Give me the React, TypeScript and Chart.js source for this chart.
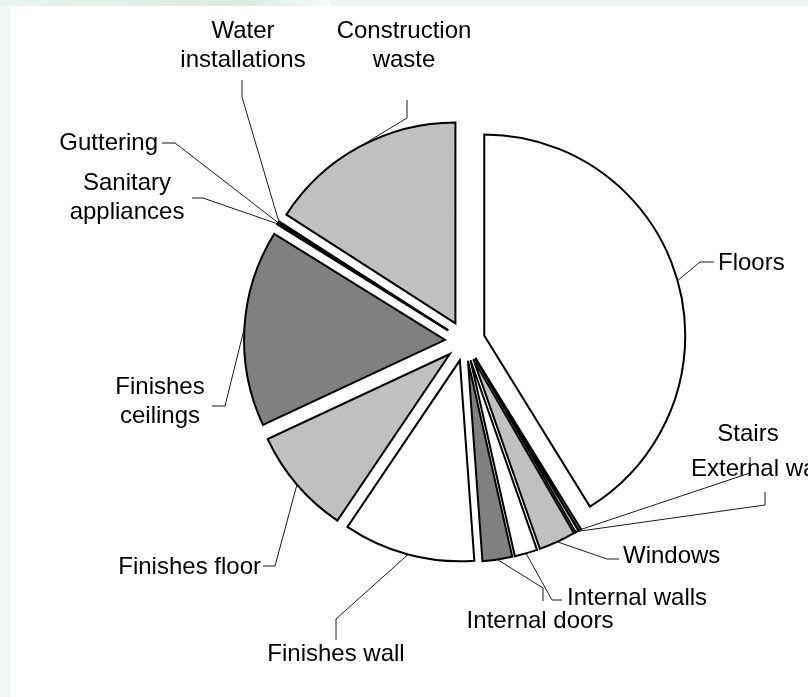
import React, { useEffect, useRef } from 'react';
import { Chart, registerables, ArcElement } from 'chart.js';

// ---------------- data ----------------
const CATEGORIES = [
  'Floors',
  'Stairs',
  'External walls',
  'Windows',
  'Internal walls',
  'Internal doors',
  'Finishes wall',
  'Finishes floor',
  'Finishes ceilings',
  'Sanitary appliances',
  'Guttering',
  'Water installations',
  'Construction waste',
];
const SHARES = [41.2, 0.22, 0.25, 2.97, 1.83, 2.39, 10.6, 8.6, 15.8, 0.1, 0.08, 0.08, 15.9];
const LABEL_TEXT = [
  ['Floors'],
  ['Stairs'],
  ['External walls'],
  ['Windows'],
  ['Internal walls'],
  ['Internal doors'],
  ['Finishes wall'],
  ['Finishes floor'],
  ['Finishes', 'ceilings'],
  ['Sanitary', 'appliances'],
  ['Guttering'],
  ['Water', 'installations'],
  ['Construction', 'waste'],
];

// ---------------- styles / layout ----------------
const W = '#ffffff';
const LG = '#c0c0c0';
const DG = '#808080';
const SLICE_COLORS = [W, DG, W, LG, W, DG, W, LG, DG, W, LG, W, LG];

type Layout = { x: number; y: number; align: CanvasTextAlign; path: number[][] };
const LABEL_LAYOUT: Layout[] = [
  { x: 718, y: 270, align: 'left', path: [[700, 262], [714, 262]] },
  { x: 748, y: 441, align: 'center', path: [[750, 473], [750, 457]] },
  { x: 691, y: 476, align: 'left', path: [[765, 505], [765, 492]] },
  { x: 623, y: 563, align: 'left', path: [[607, 559], [619, 559]] },
  { x: 567, y: 605, align: 'left', path: [[552, 600], [562, 600]] },
  { x: 540, y: 628, align: 'center', path: [[543, 588], [543, 601]] },
  { x: 336, y: 661, align: 'center', path: [[336, 619], [336, 640]] },
  { x: 261, y: 574, align: 'right', path: [[275, 566], [263, 566]] },
  { x: 160, y: 394, align: 'center', path: [[225, 406], [212, 406]] },
  { x: 127, y: 190, align: 'center', path: [[203, 198], [192, 198]] },
  { x: 158, y: 150, align: 'right', path: [[175, 143], [162, 143]] },
  { x: 243, y: 38, align: 'center', path: [[242, 97], [242, 80]] },
  { x: 404, y: 38, align: 'center', path: [[407, 118], [407, 100]] },
];
const LINE_HEIGHT = 29;
const FONT = '24px "Liberation Sans", Arial, sans-serif';

// ---------------- exploded slice element ----------------
class ExplodedArc extends ArcElement {
  static id = 'explodedArc';
  draw(ctx: CanvasRenderingContext2D) {
    const self: any = this;
    const { x, y, startAngle, endAngle, outerRadius, options } = self;
    const ex = options.offset || 0;
    const mid = (startAngle + endAngle) / 2;
    const cx = x + Math.cos(mid) * ex;
    const cy = y + Math.sin(mid) * ex;
    ctx.save();
    ctx.beginPath();
    ctx.moveTo(cx, cy);
    ctx.arc(cx, cy, outerRadius, startAngle, endAngle);
    ctx.closePath();
    ctx.fillStyle = options.backgroundColor;
    ctx.fill();
    if (options.borderWidth) {
      ctx.lineWidth = options.borderWidth;
      ctx.strokeStyle = options.borderColor;
      ctx.lineJoin = 'miter';
      ctx.miterLimit = 10;
      ctx.stroke();
    }
    ctx.restore();
  }
}

Chart.register(...registerables, ExplodedArc);
(Chart.defaults as any).datasets.pie.dataElementType = 'explodedArc';

const leaderLabels = {
  id: 'leaderLabels',
  afterDatasetsDraw(chart: any) {
    const ctx: CanvasRenderingContext2D = chart.ctx;
    const meta = chart.getDatasetMeta(0);
    ctx.save();
    meta.data.forEach((arc: any, i: number) => {
      const lay = LABEL_LAYOUT[i];
      if (!lay) return;
      const ex = arc.options.offset || 0;
      const mid = (arc.startAngle + arc.endAngle) / 2;
      const r = ex + arc.outerRadius;
      const ax = arc.x + Math.cos(mid) * r;
      const ay = arc.y + Math.sin(mid) * r;
      ctx.beginPath();
      ctx.moveTo(ax, ay);
      lay.path.forEach((p) => ctx.lineTo(p[0], p[1]));
      ctx.lineWidth = 1;
      ctx.strokeStyle = '#1a1a1a';
      ctx.stroke();
      ctx.font = FONT;
      ctx.fillStyle = '#000000';
      ctx.textAlign = lay.align;
      ctx.textBaseline = 'alphabetic';
      LABEL_TEXT[i].forEach((t, k) => ctx.fillText(t, lay.x, lay.y + k * LINE_HEIGHT));
    });
    ctx.restore();
  },
};

export default function App() {
  const ref = useRef<HTMLCanvasElement>(null);
  useEffect(() => {
    if (!ref.current) return;
    const chart = new Chart(ref.current, {
      type: 'pie',
      data: {
        labels: CATEGORIES,
        datasets: [
          {
            data: SHARES,
            backgroundColor: SLICE_COLORS,
            borderColor: '#000000',
            borderWidth: 2,
            offset: 20,
            radius: 201,
          } as any,
        ],
      },
      options: {
        animation: false,
        responsive: false,
        events: [],
        layout: { padding: { left: 222, right: 100, top: 100, bottom: 115 } },
        plugins: { legend: { display: false }, tooltip: { enabled: false } },
      },
      plugins: [leaderLabels],
    });
    return () => chart.destroy();
  }, []);

  return (
    <div style={{ position: 'fixed', left: 0, top: 0, width: 808, height: 697, background: '#f1f6f4', overflow: 'hidden' }}>
      <div style={{ position: 'absolute', left: 0, top: 0, width: 330, height: 6, background: 'linear-gradient(to right, #e9f2ee, #dcebe4 75%, #f6faf8)' }} />
      <div style={{ position: 'absolute', left: 10, top: 6, right: 0, bottom: 0, background: '#ffffff' }} />
      <canvas ref={ref} width={808} height={697} style={{ position: 'absolute', left: 0, top: 0, width: 808, height: 697 }} />
    </div>
  );
}
